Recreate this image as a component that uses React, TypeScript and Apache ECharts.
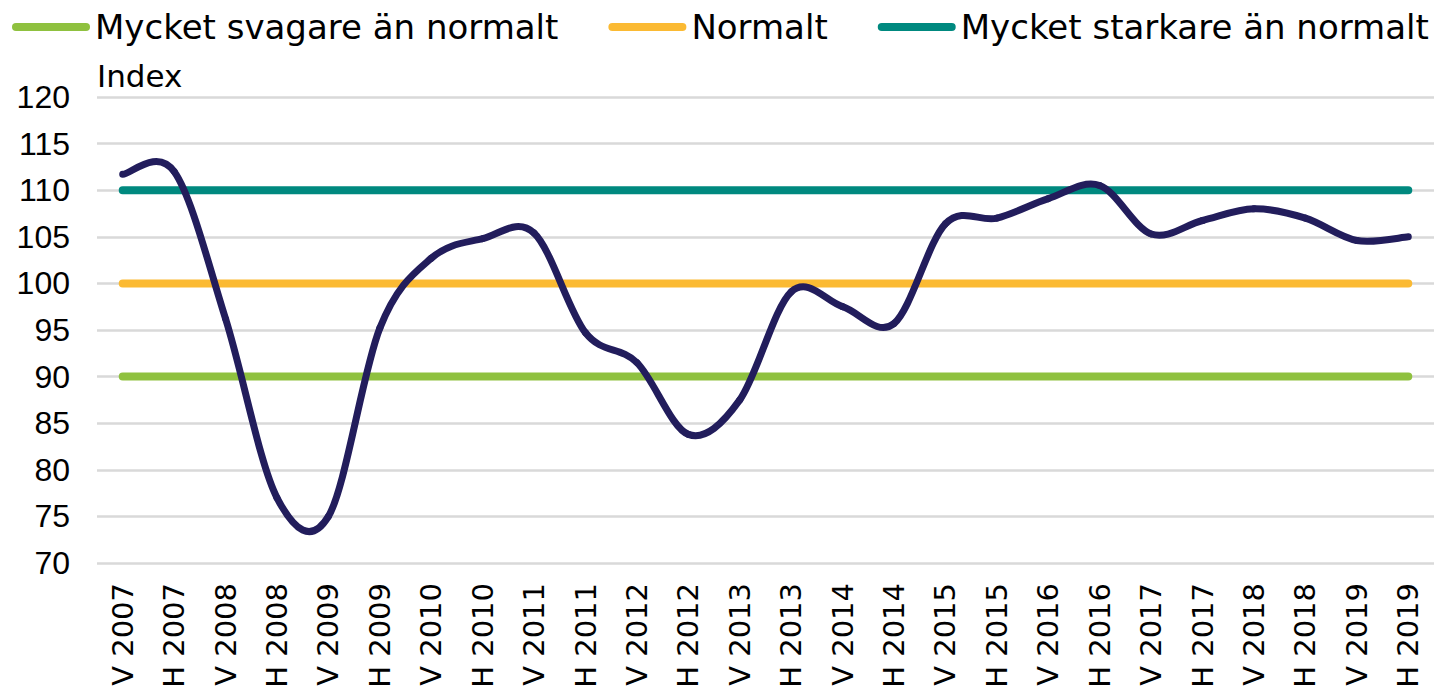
import React, { useEffect, useRef } from "react";
import * as echarts from "echarts";

const categories = [
  "V 2007", "H 2007", "V 2008", "H 2008", "V 2009", "H 2009", "V 2010", "H 2010",
  "V 2011", "H 2011", "V 2012", "H 2012", "V 2013", "H 2013", "V 2014", "H 2014",
  "V 2015", "H 2015", "V 2016", "H 2016", "V 2017", "H 2017", "V 2018", "H 2018",
  "V 2019", "H 2019",
];

const indexValues = [
  111.7, 112.0, 96.2, 77.0, 75.0, 95.2, 102.7, 104.8, 105.4, 94.7, 91.5, 83.8, 87.5,
  99.1, 97.5, 95.7, 106.4, 107.0, 109.1, 110.5, 105.3, 106.75, 108.0, 107.0, 104.6, 105.0,
];

const WEAK_LEVEL = 90;
const NORMAL_LEVEL = 100;
const STRONG_LEVEL = 110;

const weakValues = categories.map(() => WEAK_LEVEL);
const normalValues = categories.map(() => NORMAL_LEVEL);
const strongValues = categories.map(() => STRONG_LEVEL);

const legendNames = ["Mycket svagare än normalt", "Normalt", "Mycket starkare än normalt"];

const yMin = 70;
const yMax = 120;
const yInterval = 5;

const stadium = "path://M4,0 H74 A4,4 0 0 1 74,8 H4 A4,4 0 0 1 4,0 Z";
const INDEX_COLOR = "#221d5c";

export default function App() {
  const ref = useRef<HTMLDivElement>(null);

  useEffect(() => {
    if (!ref.current) return;
    const chart = echarts.init(ref.current, undefined, { renderer: "svg" });
    const refLine = (color: string) => ({
      type: "line",
      symbol: "none",
      smooth: false,
      lineStyle: { width: 8, color, cap: "round" },
      itemStyle: { color },
      z: 2,
    });

    // Smoothed (Catmull-Rom style) curve through the index points, placed via the axes.
    const renderIndex = (params: any, api: any) => {
      const i = params.dataIndex;
      const n = indexValues.length;
      if (i >= n - 1) return null;
      const pt = (j: number) => {
        const k = Math.max(0, Math.min(n - 1, j));
        return api.coord([k, indexValues[k]]);
      };
      const p0 = pt(i - 1);
      const p1 = pt(i);
      const p2 = pt(i + 1);
      const p3 = pt(i + 2);
      const t = 1 / 6;
      return {
        type: "bezierCurve",
        shape: {
          x1: p1[0],
          y1: p1[1],
          cpx1: p1[0] + (p2[0] - p0[0]) * t,
          cpy1: p1[1] + (p2[1] - p0[1]) * t,
          cpx2: p2[0] - (p3[0] - p1[0]) * t,
          cpy2: p2[1] - (p3[1] - p1[1]) * t,
          x2: p2[0],
          y2: p2[1],
        },
        style: { stroke: INDEX_COLOR, lineWidth: 7, fill: null, lineCap: "round" },
      };
    };

    chart.setOption({
      animation: false,
      backgroundColor: "#ffffff",
      legend: {
        data: legendNames,
        left: 12,
        top: 10,
        padding: 0,
        width: 1500,
        icon: stadium,
        itemWidth: 78,
        itemHeight: 8,
        itemGap: 50,
        textStyle: {
          fontFamily: "DejaVu Sans",
          fontSize: 34,
          lineHeight: 34,
          color: "#000000",
        },
      },
      grid: { left: 97, right: -5, top: 97, bottom: 129, containLabel: false },
      xAxis: {
        type: "category",
        data: categories,
        boundaryGap: true,
        axisLine: { show: false },
        axisTick: { show: false },
        axisLabel: {
          interval: 0,
          rotate: 90,
          margin: 20,
          fontFamily: "DejaVu Sans",
          fontSize: 29,
          color: "#000000",
        },
      },
      yAxis: {
        type: "value",
        min: yMin,
        max: yMax,
        interval: yInterval,
        name: "Index",
        nameLocation: "end",
        nameGap: 6,
        nameTextStyle: {
          align: "left",
          verticalAlign: "bottom",
          fontFamily: "DejaVu Sans",
          fontSize: 31,
          color: "#000000",
        },
        axisLine: { show: false },
        axisTick: { show: false },
        axisLabel: {
          margin: 27,
          fontFamily: "Liberation Sans",
          fontSize: 32,
          color: "#000000",
        },
        splitLine: { lineStyle: { color: "#d9d9d9", width: 2.5 } },
      },
      series: [
        { name: legendNames[0], data: weakValues, ...refLine("#8fc13f") },
        { name: legendNames[1], data: normalValues, ...refLine("#fbba33") },
        { name: legendNames[2], data: strongValues, ...refLine("#00897f") },
        {
          name: "Index",
          type: "custom",
          data: indexValues.map((v, i) => [i, v]),
          encode: { x: 0, y: 1 },
          renderItem: renderIndex,
          itemStyle: { color: INDEX_COLOR },
          z: 3,
        },
      ],
    });
    return () => chart.dispose();
  }, []);

  return (
    <div
      ref={ref}
      style={{ position: "fixed", left: 0, top: 0, width: 1434, height: 692, background: "#fff" }}
    />
  );
}
